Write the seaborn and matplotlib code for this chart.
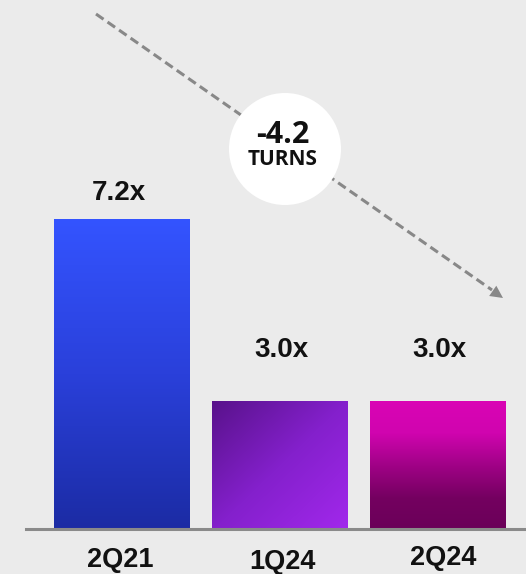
import numpy as np
import pandas as pd
import matplotlib
matplotlib.use("Agg")
import matplotlib.pyplot as plt
import seaborn as sns
from matplotlib.colors import LinearSegmentedColormap
from matplotlib.patches import Ellipse

categories = ["2Q21", "1Q24", "2Q24"]
values = [7.2, 3.0, 3.0]
value_labels = ["7.2x", "3.0x", "3.0x"]
change_value = "-4.2"
change_unit = "TURNS"

BG = "#EBEBEB"
W, H = 526, 574
fig = plt.figure(figsize=(W / 100, H / 100), dpi=100, facecolor=BG)
ax = fig.add_axes([0, 0, 1, 1])
ax.set_facecolor(BG)

df = pd.DataFrame({"cat": categories, "val": values})
sns.barplot(data=df, x="cat", y="val", ax=ax, width=0.86, color="#cccccc",
            saturation=1, linewidth=0)

PX = 43.4  # pixels per unit
XL = (-122 / 158, (W - 122) / 158)
YL = (-(H - 531) / PX, 531 / PX)

grads = [
    ("v", ["#3454FF", "#2A40DA", "#1B2BA3"]),
    ("d", ["#58128A", "#8420CC", "#A228EC"]),
    ("v", ["#DA05B5", "#D004AF", "#A00286", "#740060", "#6A0058"]),
]
for p, (mode, cols) in zip(ax.patches, grads):
    x0, y0 = p.get_x(), p.get_y()
    w, h = p.get_width(), p.get_height()
    cmap = LinearSegmentedColormap.from_list("g", cols)
    n = 256
    if mode == "v":
        arr = np.linspace(0, 1, n)[:, None] * np.ones((1, 8))
    else:
        yy, xx = np.mgrid[0:1:n * 1j, 0:1:n * 1j]
        arr = (xx + yy) / 2
    im = ax.imshow(arr, cmap=cmap, extent=(x0, x0 + w, y0, y0 + h),
                   aspect="auto", origin="upper", zorder=2, interpolation="bilinear")
    im.set_clip_path(p)
ax.set_xlim(*XL)
ax.set_ylim(*YL)
ax.axis("off")

# baseline
ax.axhline(2 / PX, xmin=26 / W, xmax=1, color="#8A8A8A", lw=2.2, zorder=3)

# value labels
val_dy = [0.43, 1.01, 1.01]
val_dx = [-0.02, 0.01, 0.006]
for i, (v, lab) in enumerate(zip(values, value_labels)):
    ax.text(i + val_dx[i], v + val_dy[i], lab, ha="center", va="baseline",
            fontsize=20, fontweight="bold", family="Liberation Sans",
            color="#111111", zorder=5)

# category labels (kept inside the canvas)
cat_y = [-0.83, -0.88, -0.79]
cat_dx = [-0.013, 0.013, 0.03]
for i, c in enumerate(categories):
    ax.text(i + cat_dx[i], cat_y[i], c, ha="center", va="baseline", fontsize=19.5,
            fontweight="bold", family="Liberation Sans", color="#111111", zorder=5)

# dashed arrow (figure pixel coords)
ftr = fig.transFigure
def fp(x, y):
    return (x / W, 1 - y / H)
sx, sy = fp(96, 14)
ex, ey = fp(492, 290)
ax.plot([sx, ex], [sy, ey], transform=ftr, color="#888888", lw=2.2,
        dashes=(3, 1.6), zorder=3)
ax.annotate("", xy=fp(503, 298), xytext=fp(480, 282),
            xycoords="figure fraction", textcoords="figure fraction",
            arrowprops=dict(arrowstyle="-|>,head_length=0.9,head_width=0.45",
                            color="#888888", lw=0, shrinkA=0, shrinkB=0), zorder=3)

# circle badge
cx, cy = fp(285, 149)
ax.add_patch(Ellipse((cx, cy), 112 / W, 112 / H, transform=ftr,
                     facecolor="white", edgecolor="none", zorder=4))
ax.text(*fp(283, 143), change_value, transform=ftr, ha="center", va="baseline",
        fontsize=22, fontweight="bold", family="Open Sans", color="#111111", zorder=5)
ax.text(*fp(283, 165), change_unit, transform=ftr, ha="center", va="baseline",
        fontsize=15, fontweight="bold", family="Open Sans", color="#111111", zorder=5)

fig.savefig("out.png", dpi=100, facecolor=BG)
